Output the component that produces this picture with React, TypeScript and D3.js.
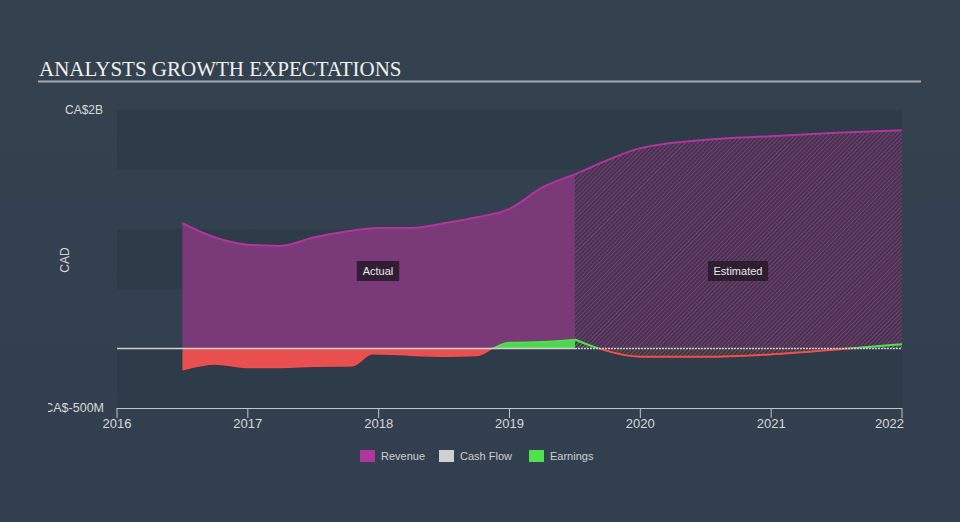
import React from 'react';
import * as d3 from 'd3';

// revenue, CA$ billions
const revActualX = [2016.5, 2016.75, 2017.0, 2017.25, 2017.5, 2017.75, 2018.0, 2018.25, 2018.5, 2018.75, 2019.0, 2019.25, 2019.5];
const revActualY = [1.05, 0.93, 0.87, 0.86, 0.93, 0.98, 1.01, 1.01, 1.05, 1.1, 1.17, 1.35, 1.46];
const revEstX = [2019.5, 2019.75, 2020.0, 2020.5, 2021.0, 2021.5, 2022.0];
const revEstY = [1.46, 1.58, 1.68, 1.75, 1.78, 1.81, 1.83];

// earnings, CA$ billions
const earnActualX = [2016.5, 2016.75, 2017.0, 2017.25, 2017.5, 2017.8, 2017.95, 2018.1, 2018.5, 2018.75, 2018.87, 2019.0, 2019.25, 2019.5];
const earnActualY = [-0.18, -0.13, -0.16, -0.16, -0.15, -0.145, -0.045, -0.05, -0.065, -0.06, 0.0, 0.05, 0.055, 0.075];
const earnEstX = [2019.5, 2019.68, 2020.0, 2020.5, 2021.0, 2021.6, 2022.0];
const earnEstY = [0.075, 0.0, -0.07, -0.07, -0.05, 0.0, 0.035];

const yearTicks = [2016, 2017, 2018, 2019, 2020, 2021, 2022];
const bandEdges = [2, 1.5, 1, 0.5, 0, -0.5];

const legendItems = [
  { label: 'Revenue', color: '#b0359e' },
  { label: 'Cash Flow', color: '#d0d0d0' },
  { label: 'Earnings', color: '#4fe04f' },
];

const W = 960;
const H = 522;
const left = 117;
const right = 902;
const top = 110;
const bottom = 408;

const App: React.FC = () => {
  const x = d3.scaleLinear().domain([2016, 2022]).range([left, right]);
  const y = d3.scaleLinear().domain([-0.5, 2]).range([bottom, top]);

  const zip = (xs: number[], ys: number[]) => xs.map((v, i) => [v, ys[i]] as [number, number]);

  const area = d3.area<[number, number]>()
    .x(d => x(d[0]))
    .y0(y(0))
    .y1(d => y(d[1]))
    .curve(d3.curveMonotoneX);
  const line = d3.line<[number, number]>()
    .x(d => x(d[0]))
    .y(d => y(d[1]))
    .curve(d3.curveMonotoneX);

  const revA = zip(revActualX, revActualY);
  const revE = zip(revEstX, revEstY);
  const earnA = zip(earnActualX, earnActualY);
  const earnE = zip(earnEstX, earnEstY);

  const sans = "'Liberation Sans', Arial, sans-serif";
  const split = x(2019.5);

  return (
    <svg width={W} height={H} style={{ position: 'absolute', left: 0, top: 0 }}>
      <defs>
        <linearGradient id="bg" x1="0" y1="0" x2="0" y2="1">
          <stop offset="0" stopColor="#34414f" />
          <stop offset="1" stopColor="#323f4e" />
        </linearGradient>
        <pattern id="hatchRev" patternUnits="userSpaceOnUse" width="3" height="3" patternTransform="rotate(45)">
          <rect width="3" height="3" fill="#3f3649" />
          <line x1="0" y1="0" x2="0" y2="3" stroke="#8a3a85" strokeWidth="1.8" />
        </pattern>
        <pattern id="hatchRed" patternUnits="userSpaceOnUse" width="3" height="3" patternTransform="rotate(45)">
          <line x1="0" y1="0" x2="0" y2="3" stroke="#c24848" strokeWidth="1.3" />
        </pattern>
        <pattern id="hatchGreen" patternUnits="userSpaceOnUse" width="3" height="3" patternTransform="rotate(45)">
          <line x1="0" y1="0" x2="0" y2="3" stroke="#3fb53f" strokeWidth="1.3" />
        </pattern>
        <clipPath id="pos"><rect x={0} y={0} width={W} height={y(0)} /></clipPath>
        <clipPath id="neg"><rect x={0} y={y(0)} width={W} height={H} /></clipPath>
        <clipPath id="ylab"><rect x={48} y={0} width={W} height={H} /></clipPath>
      </defs>

      <rect width={W} height={H} fill="url(#bg)" />

      {/* title */}
      <text x={39} y={76} fill="#f0f0f0" fontFamily="'Liberation Serif', 'Times New Roman', serif" fontSize={21}>
        ANALYSTS GROWTH EXPECTATIONS
      </text>
      <line x1={38} x2={921} y1={81.5} y2={81.5} stroke="#a3a8ae" strokeWidth={2} />

      {/* bands */}
      {bandEdges.slice(0, -1).map((v, i) => (i % 2 === 0 || v === 0) && (
        <rect key={i} x={left} y={y(v)} width={right - left} height={y(bandEdges[i + 1]) - y(v)} fill="#2e3b48" />
      ))}

      {/* revenue */}
      <path d={area(revA) || ''} fill="#7a3a77" />
      <path d={area(revE) || ''} fill="url(#hatchRev)" />
      <path d={line(revA) || ''} fill="none" stroke="#b0359e" strokeWidth={2} />
      <path d={line(revE) || ''} fill="none" stroke="#b0359e" strokeWidth={2} />

      {/* earnings */}
      <path d={area(earnA) || ''} fill="#4fd84f" clipPath="url(#pos)" />
      <path d={area(earnA) || ''} fill="#e84f4f" clipPath="url(#neg)" />
      <path d={area(earnE) || ''} fill="url(#hatchGreen)" clipPath="url(#pos)" />
      <path d={area(earnE) || ''} fill="url(#hatchRed)" clipPath="url(#neg)" />
      <path d={line(earnA) || ''} fill="none" stroke="#4fe04f" strokeWidth={1.5} clipPath="url(#pos)" />
      <path d={line(earnA) || ''} fill="none" stroke="#f04f4f" strokeWidth={1.5} clipPath="url(#neg)" />
      <path d={line(earnE) || ''} fill="none" stroke="#4fe04f" strokeWidth={2} clipPath="url(#pos)" />
      <path d={line(earnE) || ''} fill="none" stroke="#f04f4f" strokeWidth={2} clipPath="url(#neg)" />

      {/* cash flow / zero line */}
      <line x1={left} x2={split} y1={y(0)} y2={y(0)} stroke="#d0d0d0" strokeWidth={1.5} />
      <line x1={split} x2={right} y1={y(0)} y2={y(0)} stroke="#d0d0d0" strokeWidth={1.5} strokeDasharray="2,1" />

      {/* labels */}
      {[{ t: 'Actual', cx: 378 }, { t: 'Estimated', cx: 738 }].map(l => {
        const w = l.t.length * 5.9 + 7;
        return (
          <g key={l.t}>
            <rect x={l.cx - w / 2} y={261} width={w} height={20} fill="#2a1c2c" opacity={0.9} />
            <text x={l.cx} y={275} textAnchor="middle" fill="#e8e8e8" fontFamily={sans} fontSize={11}>{l.t}</text>
          </g>
        );
      })}

      {/* y labels */}
      <text x={103} y={114} textAnchor="end" fill="#d8d8d8" fontFamily={sans} fontSize={12}>CA$2B</text>
      <text x={104} y={412} textAnchor="end" fill="#d8d8d8" fontFamily={sans} fontSize={12.5} clipPath="url(#ylab)">CA$-500M</text>
      <text transform={`translate(69,260) rotate(-90)`} textAnchor="middle" fill="#d8d8d8" fontFamily={sans} fontSize={12}>CAD</text>

      {/* x axis */}
      <line x1={left} x2={right} y1={bottom + 0.5} y2={bottom + 0.5} stroke="#c0c6cc" strokeWidth={1} />
      {yearTicks.map(t => (
        <g key={t}>
          <line x1={x(t)} x2={x(t)} y1={bottom} y2={bottom + 10} stroke="#c0c6cc" strokeWidth={1} />
          <text x={x(t)} y={428} textAnchor={t === 2022 ? 'end' : 'middle'} dx={t === 2022 ? 2 : 0} fill="#d8d8d8" fontFamily={sans} fontSize={13}>{t}</text>
        </g>
      ))}

      {/* legend */}
      {legendItems.map((it, i) => {
        const lx = [360, 439, 529][i];
        return (
          <g key={it.label}>
            <rect x={lx} y={450} width={15} height={12} fill={it.color} />
            <text x={lx + 21} y={460} fill="#cfcfcf" fontFamily={sans} fontSize={11}>{it.label}</text>
          </g>
        );
      })}
    </svg>
  );
};

export default App;
